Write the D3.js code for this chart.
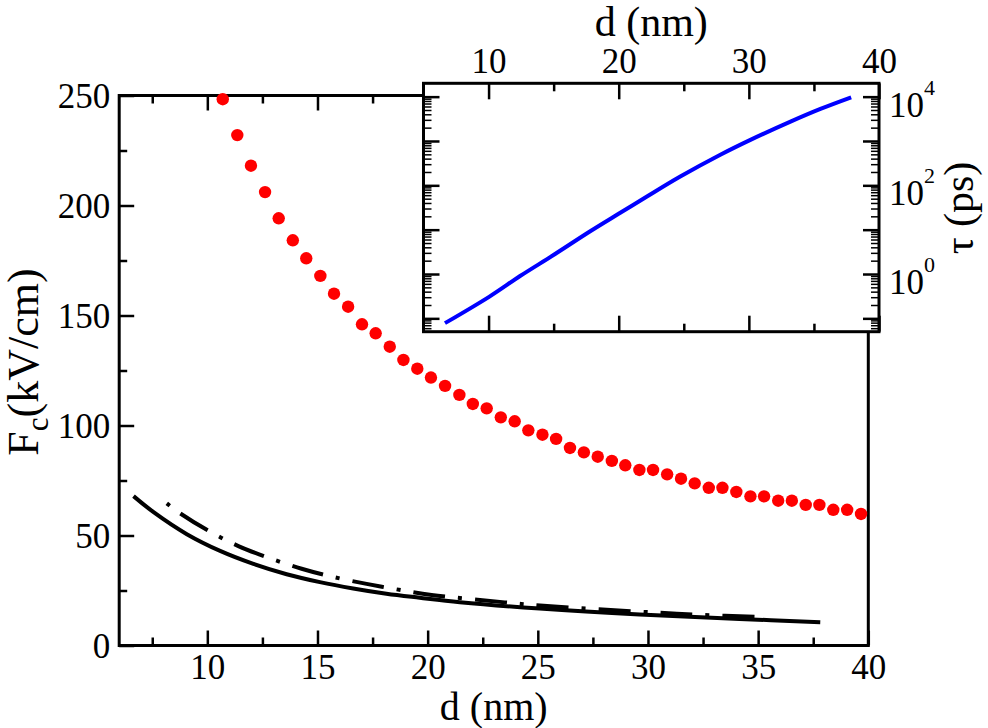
<!DOCTYPE html>
<html>
<head>
<meta charset="utf-8">
<script src="https://cdn.jsdelivr.net/npm/d3@7"></script>
<style>
	body { margin: 0; background: #fff; }
	text { font-family: "Liberation Serif", "DejaVu Serif", serif; fill: #000; }
</style>
</head>
<body>
<div id="chart-area"></div>
<script>

// critical field data (red dots), d in nm and F in kV/cm
let dotD = [10.70, 11.36, 11.98, 12.62, 13.24, 13.88, 14.49, 15.13, 15.75, 16.39, 17.02, 17.64, 18.28, 18.90, 19.53, 20.15,
	20.79, 21.44, 22.05, 22.68, 23.32, 23.95, 24.57, 25.21, 25.83, 26.46, 27.09, 27.72, 28.36, 28.97, 29.61, 30.23,
	30.87, 31.50, 32.12, 32.76, 33.38, 34.01, 34.65, 35.27, 35.91, 36.53, 37.16, 37.78, 38.41, 39.04, 39.67];
let dotF = [248.3, 232.0, 218.1, 206.1, 194.2, 184.2, 176.0, 168.0, 159.9, 154.0, 146.0, 141.9, 135.8, 129.8, 125.8, 121.8,
	118.0, 113.9, 109.8, 107.8, 103.7, 101.9, 97.8, 95.8, 93.9, 89.8, 87.8, 85.8, 83.9, 81.9, 79.8, 79.8,
	77.8, 75.8, 73.7, 71.7, 71.7, 69.8, 67.8, 67.8, 65.8, 65.8, 63.9, 63.9, 61.7, 61.7, 59.8];

// solid black curve
let solidD = [6.65, 7.56, 9.07, 10.58, 12.09, 13.60, 15.11, 16.62, 18.13, 19.64, 21.46, 25.08, 29.62, 34.15, 37.82];
let solidF = [67.9, 60.6, 50.6, 43.0, 37.1, 32.4, 28.8, 25.9, 23.5, 21.7, 19.7, 16.8, 14.1, 12.1, 10.6];

// dash-dot black curve
let dashD = [8.16, 8.76, 10.04, 11.41, 12.77, 14.28, 15.65, 17.23, 18.6, 20.18, 23.5, 25.1, 29.6, 32.3, 35.2];
let dashF = [64.6, 60.1, 52.2, 45.2, 39.9, 34.9, 31.3, 28.0, 25.5, 23.0, 19.6, 18.2, 15.4, 14.0, 12.9];

// inset: lifetime tau (ps) vs d
let tauD = [6.65, 10.07, 12.42, 15.05, 17.81, 20.12, 22.17, 24.73, 27.81, 30.12, 33.2, 35.5, 37.86];
let tauV = [0.078, 0.31, 0.90, 2.75, 9.2, 24, 56, 158, 490, 1060, 2740, 5300, 9680];

// tick values
let mainXTicks = [10, 15, 20, 25, 30, 35, 40];
let mainXMinor = [7.5, 12.5, 17.5, 22.5, 27.5, 32.5, 37.5];
let mainYTicks = [0, 50, 100, 150, 200, 250];
let mainYMinor = [25, 75, 125, 175, 225];
let insetXTicks = [10, 20, 30, 40];
let insetXMinor = [15, 25, 35];
let insetYTicks = [0.1, 1, 10, 100, 1000, 10000];
let insetYLabels = [{v: 1, e: "0"}, {v: 100, e: "2"}, {v: 10000, e: "4"}];

let svg = d3.select("#chart-area").append("svg")
	.attr("width", 988)
	.attr("height", 728);

// main plot box
let main = {left: 119.2, right: 868.3, top: 95.5, bottom: 645.5};

let x = d3.scaleLinear().domain([6, 40]).range([main.left, main.right]);
let y = d3.scaleLinear().domain([0, 250]).range([main.bottom, main.top]);

// inset box
let ins = {left: 423.5, right: 879, top: 83.3, bottom: 331.7};

let xi = d3.scaleLinear().domain([5, 40]).range([ins.left, ins.right]);
let yi = d3.scaleLog().domain([0.05, 20000]).range([ins.bottom, ins.top]);

// log minor ticks 2..9 per decade
let insetYMinor = [];
[0.01, 0.1, 1, 10, 100, 1000, 10000].forEach(dec => {
	for (let k = 2; k <= 9; k++) {
		let v = k * dec;
		if (v > 0.05 && v < 20000) insetYMinor.push(v);
	}
});

function styleAxis(g, width) {
	g.select(".domain").remove();
	g.selectAll(".tick line").attr("stroke", "#000").attr("stroke-width", width);
}

// ---------- main axes ----------
let bottomAxis = svg.append("g")
	.attr("transform", "translate(0," + main.bottom + ")")
	.call(d3.axisBottom(x).tickValues(mainXTicks).tickSize(-15).tickFormat(d3.format("d")));
styleAxis(bottomAxis, 2.5);
bottomAxis.selectAll("text")
	.attr("y", 33).attr("dy", null)
	.style("font-size", "35px");

svg.append("g")
	.attr("transform", "translate(0," + main.bottom + ")")
	.call(d3.axisBottom(x).tickValues(mainXMinor).tickSize(-8).tickFormat(""))
	.call(g => styleAxis(g, 2.5));

// top ticks of main plot (partly hidden under the inset)
svg.append("g")
	.attr("transform", "translate(0," + main.top + ")")
	.call(d3.axisTop(x).tickValues(mainXTicks).tickSize(-15).tickFormat(""))
	.call(g => styleAxis(g, 2.5));
svg.append("g")
	.attr("transform", "translate(0," + main.top + ")")
	.call(d3.axisTop(x).tickValues(mainXMinor).tickSize(-8).tickFormat(""))
	.call(g => styleAxis(g, 2.5));

let leftAxis = svg.append("g")
	.attr("transform", "translate(" + main.left + ",0)")
	.call(d3.axisLeft(y).tickValues(mainYTicks).tickSize(-15).tickFormat(d3.format("d")));
styleAxis(leftAxis, 2.5);
leftAxis.selectAll("text")
	.attr("x", -9).attr("dy", "0.34em")
	.style("font-size", "35px");

svg.append("g")
	.attr("transform", "translate(" + main.left + ",0)")
	.call(d3.axisLeft(y).tickValues(mainYMinor).tickSize(-8).tickFormat(""))
	.call(g => styleAxis(g, 2.5));

// frame
svg.append("rect")
	.attr("x", main.left).attr("y", main.top)
	.attr("width", main.right - main.left).attr("height", main.bottom - main.top)
	.attr("fill", "none").attr("stroke", "#000").attr("stroke-width", 3);

// axis titles
svg.append("text")
	.attr("x", (main.left + main.right) / 2).attr("y", 720)
	.attr("text-anchor", "middle")
	.style("font-size", "40px")
	.text("d (nm)");

let yTitle = svg.append("text")
	.attr("transform", "translate(38,362) rotate(-90)")
	.attr("text-anchor", "middle")
	.style("font-size", "44px");
yTitle.append("tspan").text("F");
yTitle.append("tspan").attr("dy", 10).style("font-size", "31px").text("c");
yTitle.append("tspan").attr("dy", -10).text("(kV/cm)");

// ---------- main data ----------
let line = d3.line()
	.x(d => x(d[0]))
	.y(d => y(d[1]))
	.curve(d3.curveCatmullRom.alpha(0.5));

svg.append("path")
	.datum(solidD.map((d, i) => [d, solidF[i]]))
	.attr("fill", "none")
	.attr("stroke", "#000")
	.attr("stroke-width", 4)
	.attr("d", line);

svg.append("path")
	.datum(dashD.map((d, i) => [d, dashF[i]]))
	.attr("fill", "none")
	.attr("stroke", "#000")
	.attr("stroke-width", 4)
	.attr("stroke-dasharray", "4,13,32,13")
	.attr("d", line);

svg.selectAll(".data-point")
	.data(dotD.map((d, i) => [d, dotF[i]]))
	.enter()
	.append("circle")
	.attr("class", "data-point")
	.attr("cx", d => x(d[0]))
	.attr("cy", d => y(d[1]))
	.attr("r", 6.2)
	.attr("fill", "#ff0000");

// ---------- inset ----------
let inset = svg.append("g");

inset.append("rect")
	.attr("x", ins.left).attr("y", ins.top)
	.attr("width", ins.right - ins.left).attr("height", ins.bottom - ins.top)
	.attr("fill", "#fff");

let insTop = inset.append("g")
	.attr("transform", "translate(0," + ins.top + ")")
	.call(d3.axisTop(xi).tickValues(insetXTicks).tickSize(-16).tickFormat(d3.format("d")));
styleAxis(insTop, 2.5);
insTop.selectAll("text")
	.attr("y", -10).attr("dy", null)
	.style("font-size", "35px");

inset.append("g")
	.attr("transform", "translate(0," + ins.top + ")")
	.call(d3.axisTop(xi).tickValues(insetXMinor).tickSize(-8).tickFormat(""))
	.call(g => styleAxis(g, 2.5));
inset.append("g")
	.attr("transform", "translate(0," + ins.bottom + ")")
	.call(d3.axisBottom(xi).tickValues(insetXTicks).tickSize(-16).tickFormat(""))
	.call(g => styleAxis(g, 2.5));
inset.append("g")
	.attr("transform", "translate(0," + ins.bottom + ")")
	.call(d3.axisBottom(xi).tickValues(insetXMinor).tickSize(-8).tickFormat(""))
	.call(g => styleAxis(g, 2.5));

// log axes, ticks on both sides
[[d3.axisLeft, ins.left], [d3.axisRight, ins.right]].forEach(([ax, pos]) => {
	inset.append("g")
		.attr("transform", "translate(" + pos + ",0)")
		.call(ax(yi).tickValues(insetYTicks).tickSize(-16).tickFormat(""))
		.call(g => styleAxis(g, 2.5));
	inset.append("g")
		.attr("transform", "translate(" + pos + ",0)")
		.call(ax(yi).tickValues(insetYMinor).tickSize(-8).tickFormat(""))
		.call(g => styleAxis(g, 1.5));
});

// right labels 10^n
insetYLabels.forEach(l => {
	let t = inset.append("text")
		.attr("x", ins.right + 10)
		.attr("y", yi(l.v) + 20)
		.style("font-size", "35px");
	t.append("tspan").text("10");
	t.append("tspan").attr("dy", -22).style("font-size", "22px").text(l.e);
});

inset.append("rect")
	.attr("x", ins.left).attr("y", ins.top)
	.attr("width", ins.right - ins.left).attr("height", ins.bottom - ins.top)
	.attr("fill", "none").attr("stroke", "#000").attr("stroke-width", 3);

inset.append("text")
	.attr("x", (ins.left + ins.right) / 2).attr("y", 36)
	.attr("text-anchor", "middle")
	.style("font-size", "42px")
	.text("d (nm)");

inset.append("text")
	.attr("transform", "translate(973,208) rotate(-90)")
	.attr("text-anchor", "middle")
	.style("font-size", "42px")
	.text("τ (ps)");

let tauLine = d3.line()
	.x(d => xi(d[0]))
	.y(d => yi(d[1]))
	.curve(d3.curveCatmullRom.alpha(0.5));

inset.append("path")
	.datum(tauD.map((d, i) => [d, tauV[i]]))
	.attr("fill", "none")
	.attr("stroke", "#0000ff")
	.attr("stroke-width", 4)
	.attr("d", tauLine);

</script>
</body>
</html>
